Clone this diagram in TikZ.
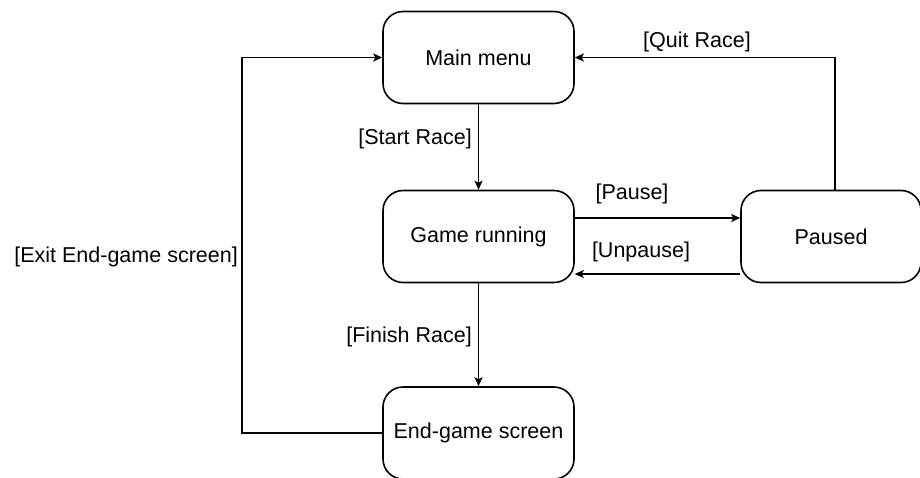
\documentclass[tikz,border=0pt]{standalone}
\usepackage{fontspec}
\setmainfont{Liberation Sans}
\usetikzlibrary{arrows.meta}
\begin{document}
\begin{tikzpicture}[x=1pt,y=-1pt,
  state/.style={draw, line width=1.6pt, rounded corners=20pt, minimum width=191pt, minimum height=92pt, inner sep=0pt, font=\fontsize{21.5}{25}\selectfont},
  lbl/.style={inner sep=0pt, font=\fontsize{21.5}{25}\selectfont},
  edge/.style={line width=1.6pt, -{Stealth[length=9pt,width=8pt,inset=2pt]}}]
\useasboundingbox (0,0) rectangle (920,477);
\clip (0,0) rectangle (920,477);
\node[state] (main) at (478.5,57.5) {Main menu};
\node[state] (game) at (478.5,236.5) {Game running};
\node[state, minimum width=180pt] (paused) at (831,236.5) {Paused};
\node[state] (end) at (478.5,433) {End-game screen};
\coordinate (exitc) at (242,433);
\draw[edge] (main) -- (game);
\draw[edge] (game) -- (end);
\draw[edge] ([yshift=18.5pt]game.east) -- ([yshift=18.5pt]paused.west);
\draw[edge] ([yshift=-37.5pt]paused.west) -- ([yshift=-37.5pt]game.east);
\draw[edge] ([xshift=4pt]paused.north) |- (main.east);
\draw[edge] (end.west) -- (exitc) |- (main.west);
\node[lbl] (lquit) at (697,42) {[Quit Race]};
\node[lbl, anchor=east] (lstart) at (472,139) {[Start Race]};
\node[lbl] (lpause) at (632,194) {[Pause]};
\node[lbl] (lunpause) at (641,252) {[Unpause]};
\node[lbl, anchor=east] (lfinish) at (472,337) {[Finish Race]};
\node[lbl, anchor=east] (lexit) at (238,257) {[Exit End-game screen]};
\end{tikzpicture}
\end{document}
